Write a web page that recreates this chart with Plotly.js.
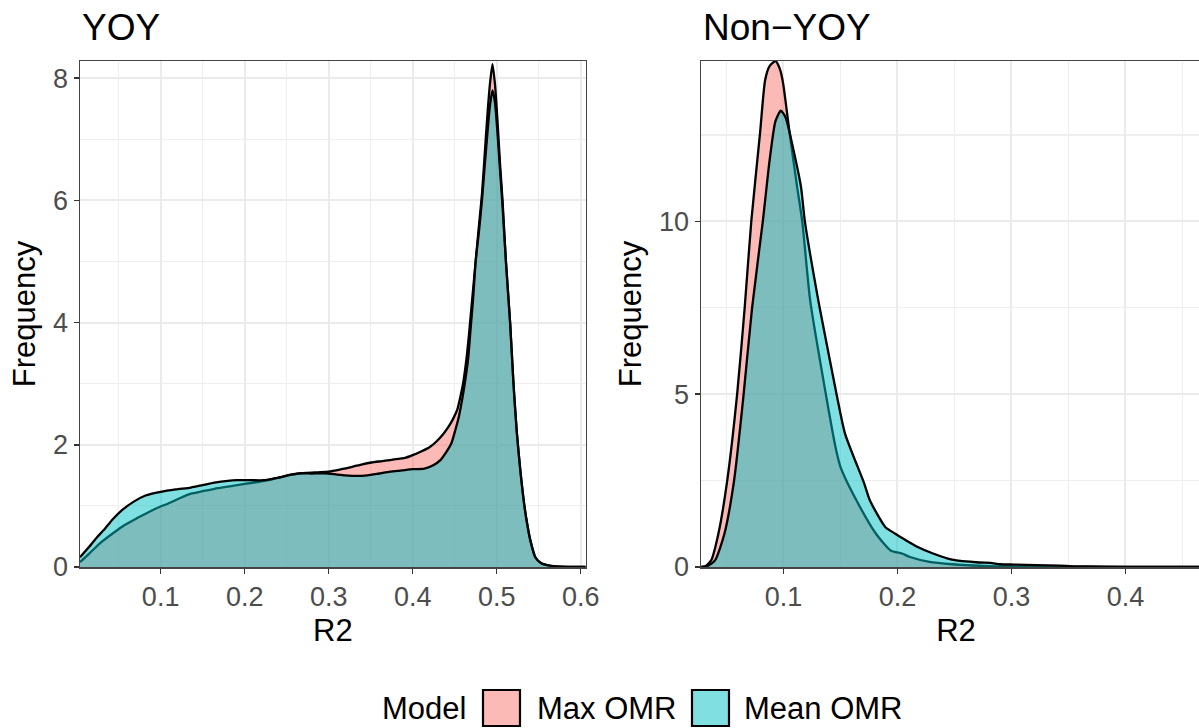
<!DOCTYPE html>
<html>
<head>
<meta charset="utf-8">
<script src="https://cdn.plot.ly/plotly-3.0.1.min.js"></script>
<style>
  html, body { margin: 0; padding: 0; overflow: hidden; background: #fff; }
  #chart { width: 1230px; height: 728px; }
</style>
</head>
<body>
<div id="chart"></div>
<script>
// ---- Data ----
const panelTitles = ["YOY", "Non\u2212YOY"];
const modelNames = ["Max OMR", "Mean OMR"];
const legendTitle = "Model";
const xTitle = "R2";
const yTitle = "Frequency";

// YOY panel
const yoyR2Max = [0.004,0.015,0.027,0.04,0.054,0.068,0.082,0.095,0.109,0.122,0.136,0.15,0.164,0.182,0.2,0.215,0.228,0.246,0.26,0.273,0.287,0.3,0.315,0.328,0.34,0.351,0.362,0.373,0.383,0.392,0.4,0.41,0.42,0.428,0.436,0.442,0.448,0.453,0.457,0.46,0.464,0.467,0.471,0.475,0.479,0.4825,0.486,0.489,0.492,0.495,0.498,0.501,0.504,0.507,0.511,0.516,0.52,0.524,0.528,0.533,0.537,0.54,0.546,0.553,0.56,0.57,0.585,0.606];
const yoyFreqMax = [0.08,0.22,0.38,0.52,0.66,0.77,0.87,0.96,1.04,1.12,1.2,1.24,1.28,1.32,1.36,1.39,1.42,1.48,1.52,1.54,1.55,1.56,1.6,1.64,1.68,1.71,1.73,1.75,1.77,1.79,1.83,1.89,1.96,2.05,2.17,2.28,2.42,2.57,2.8,3.0,3.4,3.8,4.4,5.0,5.6,6.1,6.8,7.4,7.9,8.23,7.9,7.3,6.6,6.0,5.0,4.0,3.0,2.2,1.6,1.0,0.65,0.44,0.16,0.06,0.03,0.01,0.003,0];
const yoyR2Mean = [0.004,0.015,0.025,0.032,0.043,0.054,0.068,0.082,0.1,0.118,0.136,0.15,0.164,0.18,0.191,0.207,0.223,0.235,0.246,0.255,0.264,0.28,0.3,0.31,0.319,0.333,0.346,0.36,0.373,0.387,0.4,0.414,0.425,0.433,0.44,0.446,0.451,0.455,0.459,0.462,0.466,0.469,0.472,0.475,0.479,0.4825,0.486,0.489,0.492,0.495,0.498,0.501,0.504,0.507,0.511,0.516,0.52,0.524,0.528,0.533,0.537,0.54,0.546,0.553,0.56,0.57,0.585,0.606];
const yoyFreqMean = [0.16,0.33,0.5,0.6,0.78,0.93,1.07,1.17,1.23,1.27,1.3,1.34,1.38,1.41,1.42,1.42,1.42,1.45,1.48,1.51,1.53,1.53,1.53,1.51,1.5,1.49,1.5,1.53,1.56,1.58,1.6,1.61,1.67,1.75,1.88,2.02,2.25,2.46,2.75,3.0,3.4,3.9,4.4,5.0,5.5,6.0,6.6,7.1,7.55,7.8,7.6,7.1,6.5,5.9,5.0,4.0,3.0,2.2,1.6,1.0,0.65,0.44,0.16,0.06,0.03,0.01,0.003,0];

// Non-YOY panel
const nonR2Max = [0.028,0.0315,0.0366,0.043,0.0507,0.0594,0.066,0.0718,0.0795,0.084,0.088,0.093,0.097,0.0997,0.1054,0.112,0.1165,0.1235,0.1372,0.1456,0.15,0.164,0.181,0.194,0.204,0.211,0.228,0.248,0.275,0.3,0.35,0.4,0.475];
const nonFreqMax = [0,0.02,0.19,0.97,2.5,5.0,7.5,10.0,12.56,14.1,14.5,14.64,14.4,14.0,12.56,11.0,10.0,7.7,5.0,3.48,2.9,1.93,0.97,0.48,0.39,0.29,0.15,0.08,0.03,0.01,0.003,0,0];
const nonR2Mean = [0.028,0.033,0.04,0.0483,0.0567,0.0651,0.0725,0.0819,0.088,0.093,0.0977,0.102,0.1087,0.1154,0.1188,0.1305,0.1339,0.1466,0.154,0.1708,0.1758,0.1893,0.1977,0.2077,0.2178,0.2312,0.248,0.2715,0.2815,0.29,0.3017,0.342,0.355,0.38,0.42,0.475];
const nonFreqMean = [0,0.02,0.19,0.97,2.5,5.0,7.5,10.0,11.8,12.9,13.2,13.0,12.08,11.0,10.0,7.73,7.14,5.0,3.86,2.42,1.93,1.16,0.97,0.77,0.58,0.39,0.21,0.13,0.12,0.08,0.07,0.04,0.02,0.01,0,0];

// ---- Styling ----
const fillMax = "rgba(248,118,109,0.5)";
const fillMean = "rgba(0,191,196,0.5)";
const FONT = "Liberation Sans, Arial, Helvetica, sans-serif";
const W = 1230, H = 728;
const M = {l: 80, r: W - 1211, t: 61, b: H - 567};
const plotW = W - M.l - M.r;

function tr(x, y, name, fill, xa, ya) {
  return {
    type: "scatter", mode: "lines", x: x, y: y, name: name,
    xaxis: xa, yaxis: ya, fill: "tozeroy", fillcolor: fill,
    line: {color: "#000000", width: 2.3, shape: "spline", smoothing: 0.6},
    showlegend: false, hoverinfo: "x+y+name"
  };
}

const data = [
  tr(yoyR2Max, yoyFreqMax, modelNames[0], fillMax, "x", "y"),
  tr(yoyR2Mean, yoyFreqMean, modelNames[1], fillMean, "x", "y"),
  tr(nonR2Max, nonFreqMax, modelNames[0], fillMax, "x2", "y2"),
  tr(nonR2Mean, nonFreqMean, modelNames[1], fillMean, "x2", "y2")
];

function xaxis(domain, range, anchor) {
  return {
    domain: domain, range: range, anchor: anchor,
    tickmode: "linear", tick0: 0, dtick: 0.1,
    showgrid: true, gridcolor: "#EBEBEB", gridwidth: 2,
    minor: {tick0: 0, dtick: 0.05, showgrid: true, gridcolor: "#EEEEEE", gridwidth: 1.2, ticks: ""},
    zeroline: false, showline: true, mirror: true, linecolor: "#444444", linewidth: 1.5,
    ticks: "outside", ticklen: 5, tickwidth: 1.5, tickcolor: "#333333",
    tickfont: {family: FONT, size: 27, color: "#4D4D4D"},
    title: {text: xTitle, font: {family: FONT, size: 31, color: "#000"}, standoff: 8},
    fixedrange: true
  };
}
function yaxis(range, dtick, anchor) {
  return {
    domain: [0, 1], range: range, anchor: anchor,
    tickmode: "linear", tick0: 0, dtick: dtick,
    showgrid: true, gridcolor: "#EBEBEB", gridwidth: 2,
    minor: {tick0: 0, dtick: dtick / 2, showgrid: true, gridcolor: "#EEEEEE", gridwidth: 1.2, ticks: ""},
    zeroline: false, showline: true, mirror: true, linecolor: "#444444", linewidth: 1.5,
    ticks: "outside", ticklen: 5, tickwidth: 1.5, tickcolor: "#333333",
    tickfont: {family: FONT, size: 27, color: "#4D4D4D"},
    title: {text: yTitle, font: {family: FONT, size: 31, color: "#000"}, standoff: 8},
    fixedrange: true
  };
}

const ax = v => (v - M.l) / plotW;
const ay = v => (H - M.b - v) / (H - M.t - M.b);

const layout = {
  width: W, height: H,
  margin: M,
  paper_bgcolor: "#fff", plot_bgcolor: "#fff",
  font: {family: FONT},
  showlegend: false,
  xaxis: xaxis([0, (585.7 - M.l) / plotW], [0.004, 0.606], "y"),
  yaxis: yaxis([0, 8.28], 2, "x"),
  xaxis2: xaxis([(701 - M.l) / plotW, 1], [0.0277, 0.475], "y2"),
  yaxis2: yaxis([0, 14.64], 5, "x2"),
  annotations: [
    {text: panelTitles[0], xref: "paper", yref: "paper", x: ax(80), y: ay(28), xanchor: "left", yanchor: "middle", showarrow: false, font: {family: FONT, size: 37, color: "#000"}},
    {text: panelTitles[1], xref: "paper", yref: "paper", x: ax(701), y: ay(28), xanchor: "left", yanchor: "middle", showarrow: false, font: {family: FONT, size: 37, color: "#000"}},
    {text: legendTitle, xref: "paper", yref: "paper", x: ax(380), y: ay(708), xanchor: "left", yanchor: "middle", showarrow: false, font: {family: FONT, size: 31, color: "#000"}},
    {text: modelNames[0], xref: "paper", yref: "paper", x: ax(535), y: ay(708), xanchor: "left", yanchor: "middle", showarrow: false, font: {family: FONT, size: 31, color: "#000"}},
    {text: modelNames[1], xref: "paper", yref: "paper", x: ax(742), y: ay(708), xanchor: "left", yanchor: "middle", showarrow: false, font: {family: FONT, size: 31, color: "#000"}}
  ],
  shapes: [
    {type: "rect", xref: "paper", yref: "paper", x0: ax(483), x1: ax(520), y0: ay(726), y1: ay(690), fillcolor: fillMax, line: {color: "#000", width: 2.2}},
    {type: "rect", xref: "paper", yref: "paper", x0: ax(692), x1: ax(729), y0: ay(726), y1: ay(690), fillcolor: fillMean, line: {color: "#000", width: 2.2}}
  ]
};

Plotly.newPlot("chart", data, layout, {displayModeBar: false, staticPlot: true});
</script>
</body>
</html>
